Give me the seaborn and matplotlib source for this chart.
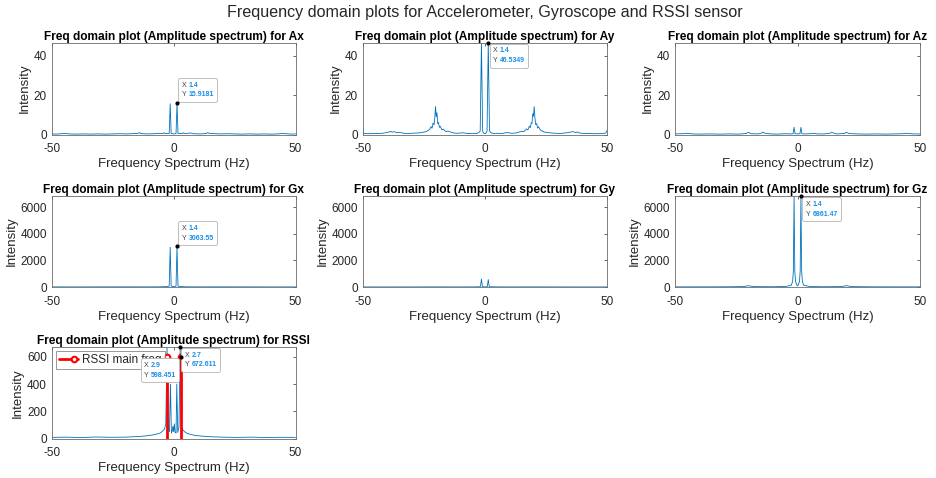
import matplotlib
matplotlib.use("Agg")
import matplotlib.pyplot as plt
import seaborn as sns
from matplotlib.lines import Line2D
from matplotlib.legend_handler import HandlerBase
from matplotlib.offsetbox import TextArea, HPacker, VPacker, AnnotationBbox

# ---------------- data ----------------
ax_freq = [-50, -48, -46, -44.5, -43, -40, -37, -34, -31, -28, -25, -22, -19, -16, -14.5,
           -14, -13.5, -11, -8, -6, -4.5, -4, -3.5, -2.5, -1.8, -1.4, -1.0, -0.5, 0, 0.5,
           1.0, 1.4, 1.8, 2.5, 3.5, 4, 4.5, 6, 7, 8, 11, 13.5, 14, 14.5, 16, 19, 22, 25,
           28, 31, 34, 37, 40, 43, 44.5, 46, 48, 50]
ax_amp = [0.3, 0.2, 0.4, 0.6, 0.3, 0.2, 0.3, 0.2, 0.3, 0.2, 0.3, 0.4, 0.3, 0.5, 0.6,
          1.0, 0.5, 0.3, 0.4, 0.6, 0.5, 0.9, 0.4, 0.6, 0.5, 15.6, 0.5, 0.4, 0.3, 0.4,
          0.5, 15.9181, 0.5, 0.6, 0.4, 0.9, 0.5, 0.6, 0.8, 0.4, 0.3, 0.5, 1.0, 0.6, 0.5,
          0.3, 0.4, 0.3, 0.2, 0.3, 0.2, 0.3, 0.2, 0.3, 0.6, 0.4, 0.2, 0.3]

ay_freq = [-50, -49.5, -48, -45, -42, -40, -38.5, -38, -37, -36, -35, -33, -31, -29, -27,
           -25, -24, -23, -22.5, -22, -21.6, -21.2, -20.8, -20.5, -20.2, -19.9, -19.6,
           -19.3, -19, -18.6, -18.2, -17.6, -17, -16, -15, -13, -11, -9, -7, -5, -3.5,
           -2.5, -1.9, -1.4, -0.9, -0.4, 0,
           0.4, 0.9, 1.4, 1.9, 2.5, 3.5, 5, 7, 9, 11, 13, 15, 16, 17, 17.6, 18.2, 18.6, 19,
           19.3, 19.6, 19.9, 20.2, 20.5, 20.8, 21.2, 21.6, 22, 22.5, 23, 24, 25, 27, 29,
           31, 33, 35, 36, 37, 38, 38.5, 40, 42, 45, 48, 49.5, 50]
ay_amp = [1.6, 0.6, 0.4, 0.5, 0.6, 1.0, 1.6, 1.2, 1.4, 0.9, 1.1, 0.6, 0.5, 0.7, 0.8,
          1.2, 1.5, 2.2, 2.8, 4.0, 3.2, 5.8, 4.9, 8.5, 14.2, 9.0, 11.0,
          5.5, 6.2, 3.6, 4.1, 2.4, 2.7, 1.5, 1.7, 0.8, 0.6, 0.9, 0.5, 0.6, 0.5,
          0.9, 1.8, 46.5, 1.6, 0.6, 0.4,
          0.6, 1.7, 46.5349, 1.8, 0.9, 0.5, 0.6, 0.5, 1.0, 0.6, 0.8, 1.6, 1.5, 2.8, 2.3, 4.2, 3.5, 6.0,
          5.6, 10.5, 9.2, 14.1, 8.3, 5.0, 5.6, 3.3, 3.9, 2.7, 2.1, 1.4, 1.1, 0.8, 0.6,
          0.5, 0.8, 1.2, 1.5, 1.0, 1.3, 0.8, 0.6, 0.5, 0.4, 0.5, 0.7, 2.0]

az_freq = [-50, -47, -45, -43, -40, -36, -32, -28, -24, -21, -20, -19, -16, -14.5, -14,
           -13.5, -11, -8, -5, -3, -1.8, -1.4, -1.0, 0, 1.0, 1.4, 1.8, 3, 5, 7, 8, 11,
           13.5, 14, 14.5, 16, 19, 20, 21, 24, 28, 32, 36, 40, 43, 45, 47, 50]
az_amp = [0.3, 0.4, 0.6, 0.3, 0.2, 0.3, 0.2, 0.3, 0.2, 0.5, 1.1, 0.4, 0.3, 0.8, 1.2,
          0.7, 0.3, 0.2, 0.4, 0.3, 0.4, 3.7, 0.4, 0.3, 0.4, 3.6, 0.4, 0.3, 0.4, 0.6, 0.3, 0.3,
          0.7, 1.2, 0.8, 0.3, 0.5, 1.1, 0.5, 0.3, 0.2, 0.3, 0.2, 0.3, 0.4, 0.6, 0.3, 0.3]

gx_freq = [-50, -40, -30, -20, -10, -5, -2.5, -1.8, -1.4, -1.0, -0.5, 0, 0.5, 1.0, 1.4,
           1.8, 2.5, 5, 10, 20, 30, 40, 50]
gx_amp = [8, 6, 9, 12, 10, 15, 40, 70, 3000, 70, 40, 30, 40, 70, 3063.55,
          70, 40, 15, 10, 12, 9, 6, 8]

gy_freq = [-50, -40, -30, -20, -10, -5, -2.5, -1.8, -1.4, -1.0, -0.5, 0, 0.5, 1.0, 1.4,
           1.8, 2.5, 5, 10, 20, 30, 40, 50]
gy_amp = [5, 4, 6, 8, 6, 8, 15, 25, 600, 25, 15, 10, 15, 25, 560,
          25, 15, 8, 6, 8, 6, 4, 5]

gz_freq = [-50, -40, -30, -22, -20, -18, -10, -5, -2.6, -2.0, -1.7, -1.4, -1.1, -0.8, -0.2,
           0, 0.2, 0.8, 1.1, 1.4, 1.7, 2.0, 2.6, 5, 10, 18, 20, 22, 30, 40, 50]
gz_amp = [10, 12, 15, 30, 100, 30, 20, 40, 120, 400, 1200, 6861.47, 1200, 400, 120,
          90, 120, 400, 1200, 6861.47, 1200, 400, 120, 40, 20, 30, 100, 30, 15, 12, 10]

rs_freq = [-50, -44, -38, -32, -26, -20, -15, -12, -9, -7, -5.5, -4.5, -3.7, -3.2, -2.7,
           -2.2, -1.7, -1.3, -0.9, -0.5, -0.3, 0, 0.3, 0.6, 1.0, 1.3, 1.7, 2.2, 2.7, 3.2,
           3.7, 4.5, 5.5, 7, 9, 12, 15, 20, 26, 32, 38, 44, 50]
rs_amp = [8, 10, 7, 11, 9, 10, 14, 18, 25, 32, 40, 55, 70, 110, 672,
          90, 50, 400, 40, 60, 90, 50, 108, 45, 40, 400, 45, 85, 672.611, 100,
          65, 50, 38, 30, 22, 17, 13, 10, 8, 10, 7, 9, 8]

rs_main_freq = [-2.9, 2.9]
rs_main_amp = [598.451, 598.451]

a_ticks = [0, 20, 40]
g_ticks = [0, 2000, 4000, 6000]
r_ticks = [0, 200, 400, 600]
x_ticks = [-50, 0, 50]

suptitle = "Frequency domain plots for Accelerometer, Gyroscope and RSSI sensor"
title_fmt = "Freq domain plot (Amplitude spectrum) for {}"

# ---------------- style ----------------
sns.set_theme(style="white")
plt.rcParams["font.family"] = ["Liberation Sans", "DejaVu Sans"]
plt.rcParams["axes.unicode_minus"] = False

BLUE = "#0072BD"
FRAME = "#262626"
TIPBLUE = "#1a8fe8"

fig = plt.figure(figsize=(9.36, 4.78), dpi=100)
W, H = 936.0, 478.0


def make_ax(left_px, top_px, right_px, bottom_px):
    return fig.add_axes([left_px / W, 1 - bottom_px / H,
                         (right_px - left_px) / W, (bottom_px - top_px) / H])


cols = [(51.7, 295.5), (362.7, 607.0), (675.0, 920.0)]
rows = [(42.7, 134.5), (196.0, 287.0), (347.0, 438.5)]


def style(ax, name, ylim, yticks):
    ax.set_xlim(-50, 50)
    ax.set_ylim(0, ylim)
    ax.set_xticks(x_ticks)
    ax.set_yticks(yticks)
    ax.tick_params(direction="in", length=2.5, width=0.5, colors=FRAME,
                   labelsize=8.5, top=True, right=True, pad=3.5)
    ax.tick_params(axis="x", pad=6.3)
    for sp in ax.spines.values():
        sp.set_color("#6a6a6a")
        sp.set_linewidth(0.6)
    ax.set_title(title_fmt.format(name), fontsize=8.6, fontweight="bold",
                 color="black", pad=2)
    ax.set_xlabel("Frequency Spectrum (Hz)", fontsize=9.5, color=FRAME, labelpad=2)
    ax.set_ylabel("Intensity", fontsize=9.5, color=FRAME, labelpad=2)
    ax.grid(False)


def spectrum(ax, f, a):
    sns.lineplot(x=f, y=a, ax=ax, color=BLUE, linewidth=0.6, estimator=None,
                 sort=False, legend=False)


def datatip(ax, x, y, xs, ys, align):
    fs = 5.0
    r1 = HPacker(children=[TextArea("X", textprops=dict(color="#404040", fontsize=fs)),
                           TextArea(xs, textprops=dict(color=TIPBLUE, fontsize=fs,
                                                       fontweight="bold"))],
                 sep=1.5, pad=0)
    r2 = HPacker(children=[TextArea("Y", textprops=dict(color="#404040", fontsize=fs)),
                           TextArea(ys, textprops=dict(color=TIPBLUE, fontsize=fs,
                                                       fontweight="bold"))],
                 sep=1.5, pad=0)
    box = VPacker(children=[r1, r2], sep=2.0, pad=0, align="left")
    off = 3.4
    sx = off if align[0] == 0 else -off
    sy = off if align[1] == 0 else -off
    ab = AnnotationBbox(box, (x, y), xycoords="data", xybox=(sx, sy),
                        boxcoords="offset points", box_alignment=align,
                        frameon=True, pad=0.5, fontsize=5.0, annotation_clip=False,
                        bboxprops=dict(edgecolor="#b4b4b4", facecolor="white",
                                       linewidth=0.6,
                                       boxstyle="round,pad=0.5,rounding_size=0.3"))
    ab.set_zorder(10)
    ax.add_artist(ab)
    ax.plot([x], [y], marker="o", markersize=2.0, color="black", zorder=11,
            clip_on=False)


class StemHandler(HandlerBase):
    def create_artists(self, legend, orig_handle, xdescent, ydescent, width, height,
                       fontsize, trans):
        y = height / 2.0 - ydescent
        line = Line2D([-xdescent, width - xdescent], [y, y], color="red",
                      linewidth=2, transform=trans)
        mk = Line2D([width - xdescent - 0.2 * width], [y], linestyle="none",
                    marker="o", markersize=4, markerfacecolor="white",
                    markeredgecolor="red", markeredgewidth=1.5, transform=trans)
        return [line, mk]


A_MAX = 46.5349
G_MAX = 6861.47
R_MAX = 672.611

# Row 1
axA = make_ax(cols[0][0], rows[0][0], cols[0][1], rows[0][1])
spectrum(axA, ax_freq, ax_amp)
style(axA, "Ax", A_MAX, a_ticks)
datatip(axA, 1.4, 15.9181, "1.4", "15.9181", (0, 0))

axB = make_ax(cols[1][0], rows[0][0], cols[1][1], rows[0][1])
spectrum(axB, ay_freq, ay_amp)
style(axB, "Ay", A_MAX, a_ticks)
datatip(axB, 1.4, 46.5349, "1.4", "46.5349", (0, 1))

axC = make_ax(cols[2][0], rows[0][0], cols[2][1], rows[0][1])
spectrum(axC, az_freq, az_amp)
style(axC, "Az", A_MAX, a_ticks)

# Row 2
axD = make_ax(cols[0][0], rows[1][0], cols[0][1], rows[1][1])
spectrum(axD, gx_freq, gx_amp)
style(axD, "Gx", G_MAX, g_ticks)
datatip(axD, 1.4, 3063.55, "1.4", "3063.55", (0, 0))

axE = make_ax(cols[1][0], rows[1][0], cols[1][1], rows[1][1])
spectrum(axE, gy_freq, gy_amp)
style(axE, "Gy", G_MAX, g_ticks)

axF = make_ax(cols[2][0], rows[1][0], cols[2][1], rows[1][1])
spectrum(axF, gz_freq, gz_amp)
style(axF, "Gz", G_MAX, g_ticks)
datatip(axF, 1.4, 6861.47, "1.4", "6861.47", (0, 1))

# Row 3
axG = make_ax(cols[0][0], rows[2][0], cols[0][1], rows[2][1])
spectrum(axG, rs_freq, rs_amp)
axG.vlines(rs_main_freq, 0, rs_main_amp, color="red", linewidth=2, zorder=4)
axG.plot(rs_main_freq, rs_main_amp, linestyle="none", marker="o", markersize=4,
         markerfacecolor="white", markeredgecolor="red", markeredgewidth=1.5, zorder=5)
style(axG, "RSSI", R_MAX, r_ticks)
handle = Line2D([], [], color="red")
leg = axG.legend([handle], ["RSSI main freq"], loc="upper left", fontsize=8.5,
                 frameon=True, fancybox=False, borderaxespad=0.35,
                 handlelength=1.6, borderpad=0.25, handletextpad=0.4,
                 handler_map={Line2D: StemHandler()})
leg.get_frame().set_edgecolor("#6a6a6a")
leg.get_frame().set_linewidth(0.6)
leg.set_zorder(6)
datatip(axG, 2.9, 598.451, "2.9", "598.451", (1, 1))
datatip(axG, 2.7, 672.611, "2.7", "672.611", (0, 1))

fig.text(484.5 / W, 1 - 13 / H, suptitle, ha="center", va="center",
         fontsize=11.6, color=FRAME)

fig.savefig("out.png", dpi=100)
